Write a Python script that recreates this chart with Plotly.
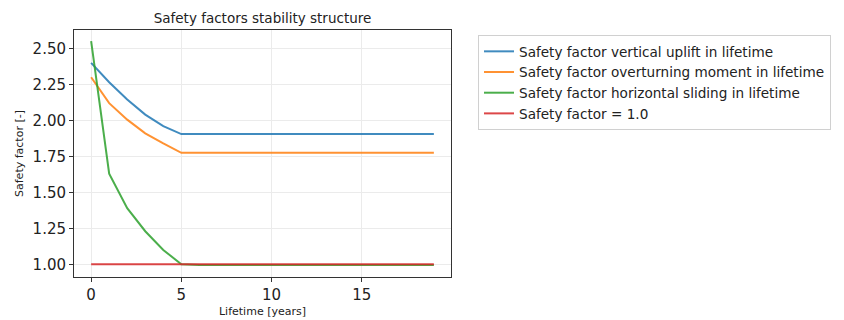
import plotly.graph_objects as go

# Lifetime in years
years = list(range(20))

# Safety factors per year (constant after year 5)
uplift = [2.40, 2.265, 2.145, 2.04, 1.96, 1.905] + [1.905] * 14
overturning = [2.30, 2.12, 2.005, 1.91, 1.84, 1.775] + [1.775] * 14
sliding = [2.55, 1.63, 1.39, 1.23, 1.10, 1.00] + [0.995] * 14
unity = [1.0] * 20

series = [
    ("Safety factor vertical uplift in lifetime", uplift, "rgba(31,119,180,0.85)"),
    ("Safety factor overturning moment in lifetime", overturning, "rgba(255,127,14,0.85)"),
    ("Safety factor horizontal sliding in lifetime", sliding, "rgba(44,160,44,0.85)"),
    ("Safety factor = 1.0", unity, "rgba(214,39,40,0.85)"),
]

fig = go.Figure()
for name, vals, color in series:
    fig.add_trace(go.Scatter(x=years, y=vals, mode="lines", name=name,
                             line=dict(color=color, width=2)))

font_family = "DejaVu Sans"
fig.update_layout(
    width=844, height=320,
    margin=dict(l=74, r=393, t=30, b=43),
    paper_bgcolor="white", plot_bgcolor="white",
    font=dict(family=font_family, color="#222"),
    title=dict(text="Safety factors stability structure", x=(74 + 451) / 2 / 844,
               xanchor="center", y=1 - 18 / 320, yanchor="middle",
               font=dict(size=13.5, color="#222")),
    legend=dict(xref="container", yref="container", x=478 / 844, y=1 - 35 / 320,
                xanchor="left", yanchor="top", bordercolor="#d0d0d0", borderwidth=1,
                font=dict(size=13.6, color="#222"), itemwidth=30, tracegroupgap=0),
    showlegend=True,
)
fig.update_xaxes(
    range=[-0.95, 19.95], tickvals=[0, 5, 10, 15], ticks="outside", ticklen=4,
    tickcolor="#333", showline=True, linecolor="#333", linewidth=1, mirror=True,
    showgrid=True, gridcolor="#ebebeb", gridwidth=1, zeroline=False,
    tickfont=dict(size=15, color="#222"), automargin=False,
    title=dict(text="Lifetime [years]", font=dict(size=11, color="#222"), standoff=4),
)
fig.update_yaxes(
    range=[0.912, 2.628], tickvals=[1.0, 1.25, 1.5, 1.75, 2.0, 2.25, 2.5],
    ticktext=["1.00", "1.25", "1.50", "1.75", "2.00", "2.25", "2.50"],
    ticks="outside", ticklen=4, tickcolor="#333", showline=True, linecolor="#333",
    linewidth=1, mirror=True, showgrid=True, gridcolor="#ebebeb", gridwidth=1,
    zeroline=False, tickfont=dict(size=15, color="#222"), automargin=False,
    title=dict(text="Safety factor [-]", font=dict(size=11, color="#222"), standoff=6),
)

fig.write_html("out.html")
